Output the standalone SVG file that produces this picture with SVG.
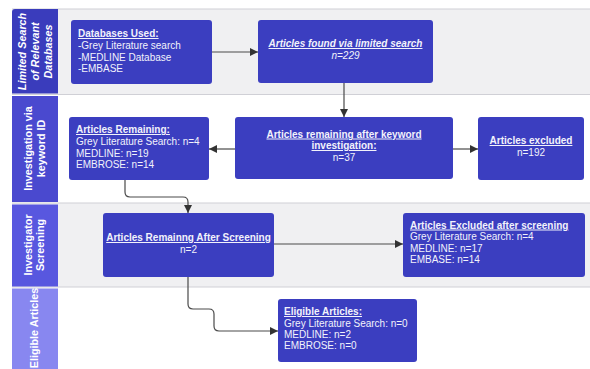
<svg xmlns="http://www.w3.org/2000/svg" width="590" height="369" viewBox="0 0 590 369">
<style>
.t{font-family:"Liberation Sans",Arial,sans-serif;font-size:10px;fill:#f2f2fb}
.b{font-weight:bold;text-decoration:underline}
.h{font-family:"Liberation Sans",Arial,sans-serif;font-size:10.8px;font-weight:bold;fill:#ffffff}
.node{fill:#3b3ec0}
.c{fill:none;stroke:#4a4a4a;stroke-width:1.2}
.div{stroke:#d0d0d6;stroke-width:1.2}
</style>
<defs>
<marker id="ah" viewBox="0 0 10 10" refX="10" refY="5" markerWidth="8" markerHeight="8" orient="auto" markerUnits="userSpaceOnUse">
<path d="M0,0 L10,5 L0,10 z" fill="#333"/>
</marker>
</defs>
<rect width="590" height="369" fill="#ffffff"/>
<g id="lanes">
<rect x="12" y="9" width="578" height="85" fill="#f0f0f2"/>
<rect x="12" y="94" width="578" height="109" fill="#ffffff"/>
<rect x="12" y="203" width="578" height="84" fill="#f0f0f2"/>
<rect x="12" y="287" width="578" height="82" fill="#ffffff"/>
<line class="div" x1="12" y1="9" x2="590" y2="9"/>
<line class="div" x1="12" y1="94.5" x2="590" y2="94.5"/>
<line class="div" x1="12" y1="203" x2="590" y2="203"/>
<line class="div" x1="12" y1="287" x2="590" y2="287"/>
<path d="M15,9 H58 V93.5 H12 V12 Q12,9 15,9 z" fill="#3a3cbc"/>
<rect x="12" y="96" width="46" height="106" fill="#4a49cf"/>
<rect x="12" y="204.5" width="46" height="82" fill="#5857df"/>
<rect x="12" y="288.5" width="46" height="81" fill="#8887f0"/>
<text class="h" font-style="italic" text-anchor="middle" transform="translate(26,51.5) rotate(-90)"><tspan x="0" y="0">Limited Search</tspan><tspan x="0" dy="12.8">of Relevant</tspan><tspan x="0" dy="12.8">Databases</tspan></text>
<text class="h" text-anchor="middle" transform="translate(32,148.5) rotate(-90)"><tspan x="0" y="0">Investigation via</tspan><tspan x="0" dy="12.5">keyword ID</tspan></text>
<text class="h" text-anchor="middle" transform="translate(31.5,245) rotate(-90)"><tspan x="0" y="0">Investigator</tspan><tspan x="0" dy="12.5">Screening</tspan></text>
<text class="h" font-size="10px" text-anchor="middle" transform="translate(38,328) rotate(-90)">Eligible Articles</text>
</g>
<g id="connectors">
<path class="c" d="M212,52 H258" marker-end="url(#ah)"/>
<path class="c" d="M344,83 V117" marker-end="url(#ah)"/>
<path class="c" d="M235,149 H209" marker-end="url(#ah)"/>
<path class="c" d="M453,149 H478" marker-end="url(#ah)"/>
<path class="c" d="M125,180 V192 Q125,197 130,197 H183 Q188,197 188,202 V213" marker-end="url(#ah)"/>
<path class="c" d="M274,244 H403" marker-end="url(#ah)"/>
<path class="c" d="M188,277 V304 Q188,309 193,309 H209 Q214,309 214,314 V326 Q214,331 219,331 H278" marker-end="url(#ah)"/>
</g>
<g id="n1">
<rect class="node" x="71" y="20" width="141" height="64" rx="3"/>
<text class="t" x="78"><tspan class="b" y="37">Databases Used:</tspan><tspan x="78" y="49">-Grey Literature search</tspan><tspan x="78" y="60.5">-MEDLINE Database</tspan><tspan x="78" y="72">-EMBASE</tspan></text>
</g>
<g id="n2">
<rect class="node" x="258" y="20" width="175" height="63" rx="3"/>
<text class="t" text-anchor="middle" font-style="italic"><tspan class="b" x="345.5" y="47">Articles found via limited search</tspan><tspan x="345.5" y="59">n=229</tspan></text>
</g>
<g id="n3">
<rect class="node" x="235" y="117" width="218" height="62" rx="3"/>
<text class="t" text-anchor="middle"><tspan class="b" x="344" y="137.5">Articles remaining after keyword</tspan><tspan class="b" x="344" y="149">investigation:</tspan><tspan x="344" y="161">n=37</tspan></text>
</g>
<g id="n4">
<rect class="node" x="478" y="117" width="106" height="63" rx="3"/>
<text class="t" text-anchor="middle"><tspan class="b" x="531" y="144">Articles excluded</tspan><tspan x="531" y="155.5">n=192</tspan></text>
</g>
<g id="n5">
<rect class="node" x="69" y="117" width="140" height="63" rx="3"/>
<text class="t"><tspan class="b" x="76" y="133">Articles Remaining:</tspan><tspan x="76" y="145">Grey Literature Search: n=4</tspan><tspan x="76" y="156.5">MEDLINE: n=19</tspan><tspan x="76" y="168">EMBROSE: n=14</tspan></text>
</g>
<g id="n6">
<rect class="node" x="103" y="213" width="171" height="64" rx="3"/>
<text class="t" text-anchor="middle"><tspan class="b" x="188.5" y="241">Articles Remainng After Screening</tspan><tspan x="188.5" y="253">n=2</tspan></text>
</g>
<g id="n7">
<rect class="node" x="403" y="213" width="182" height="64" rx="3"/>
<text class="t"><tspan class="b" x="410" y="228.5">Articles Excluded after screening</tspan><tspan x="410" y="240">Grey Literature Search: n=4</tspan><tspan x="410" y="251.5">MEDLINE: n=17</tspan><tspan x="410" y="263">EMBASE: n=14</tspan></text>
</g>
<g id="n8">
<rect class="node" x="278" y="299" width="139" height="63" rx="3"/>
<text class="t"><tspan class="b" x="284" y="315">Eligible Articles:</tspan><tspan x="284" y="326.5">Grey Literature Search: n=0</tspan><tspan x="284" y="337.5">MEDLINE: n=2</tspan><tspan x="284" y="348.5">EMBROSE: n=0</tspan></text>
</g>
</svg>
